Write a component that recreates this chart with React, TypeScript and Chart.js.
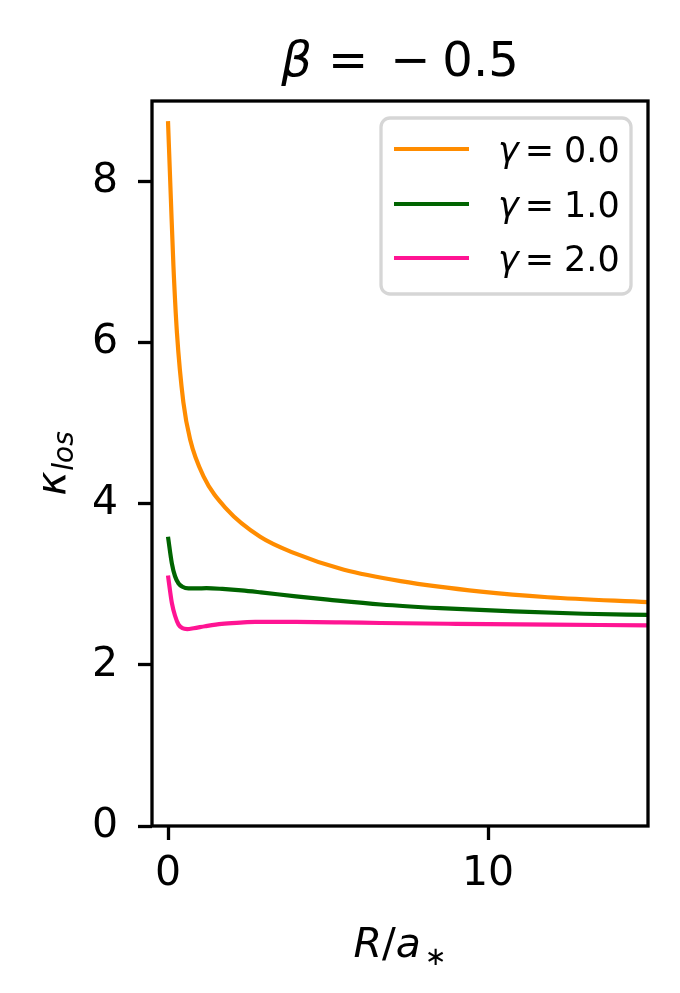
import { useEffect, useRef } from "react";
import { Chart, registerables } from "chart.js";

Chart.register(...registerables);

const FAMILY = '"DejaVu Sans", sans-serif';

// séries (R/a* no eixo x, kappa_los no eixo y)
const gammaLabels = ["0.0", "1.0", "2.0"];
const gammaColors = ["#ff8c00", "#006400", "#ff1493"];

const rGamma0 = [0, 0.09, 0.17, 0.28, 0.48, 0.69, 1.11, 1.84, 2.88, 3.93, 5.5, 7.27, 9.78, 11.87, 15];
const kGamma0 = [8.75, 7.78, 6.95, 6.12, 5.26, 4.8, 4.34, 3.93, 3.59, 3.39, 3.18, 3.04, 2.91, 2.84, 2.78];

const rGamma1 = [0, 0.12, 0.22, 0.33, 0.45, 0.64, 0.9, 1.2, 1.7, 2.3, 2.9, 4.0, 5.0, 6.65, 8.5, 10.8, 13, 15];
const kGamma1 = [3.59, 3.26, 3.1, 3.01, 2.97, 2.95, 2.95, 2.952, 2.943, 2.925, 2.9, 2.85, 2.81, 2.75, 2.705, 2.665, 2.635, 2.62];

const rGamma2 = [0, 0.06, 0.12, 0.22, 0.33, 0.45, 0.6, 0.8, 1.16, 1.68, 2.26, 2.73, 4, 5.4, 6.65, 9, 12, 15];
const kGamma2 = [3.11, 2.93, 2.77, 2.61, 2.5, 2.455, 2.445, 2.455, 2.48, 2.51, 2.525, 2.533, 2.533, 2.528, 2.52, 2.51, 2.5, 2.49];

const xTicks = [0, 10];
const yTicks = [0, 2, 4, 6, 8];

type Part = { text: string; font: string; dy?: number; gap?: number };

function drawParts(ctx: CanvasRenderingContext2D, parts: Part[], x: number, y: number, center: boolean) {
  const widths = parts.map((p) => {
    ctx.font = p.font;
    return ctx.measureText(p.text).width + (p.gap || 0);
  });
  const total = widths.reduce((a, b) => a + b, 0);
  let cx = center ? x - total / 2 : x;
  ctx.textAlign = "left";
  ctx.textBaseline = "alphabetic";
  parts.forEach((p, i) => {
    ctx.font = p.font;
    ctx.fillText(p.text, cx, y + (p.dy || 0));
    cx += widths[i];
  });
}

const decorPlugin = {
  id: "decor",
  afterDraw(chart: Chart) {
    const ctx = chart.ctx;
    const a = chart.chartArea;
    ctx.save();
    ctx.fillStyle = "#000";

    // moldura
    ctx.strokeStyle = "#000";
    ctx.lineWidth = 3.3;
    ctx.strokeRect(a.left, a.top, a.right - a.left, a.bottom - a.top);

    // título
    const title = `48px ${FAMILY}`;
    drawParts(ctx, [
      { text: "β", font: `italic 48px ${FAMILY}`, gap: 16 },
      { text: "=", font: title, gap: 22 },
      { text: "−", font: title, gap: 12 },
      { text: "0.5", font: title },
    ], (a.left + a.right) / 2, 76, true);

    // rótulo do eixo x
    const big = `41px ${FAMILY}`;
    const bigIt = `italic 41px ${FAMILY}`;
    drawParts(ctx, [
      { text: "R", font: bigIt },
      { text: "/", font: big },
      { text: "a", font: bigIt, gap: 4 },
      { text: "∗", font: `26px ${FAMILY}`, dy: 8 },
    ], (a.left + a.right) / 2, 957, true);

    // rótulo do eixo y
    ctx.save();
    ctx.translate(65, (a.top + a.bottom) / 2);
    ctx.rotate(-Math.PI / 2);
    drawParts(ctx, [
      { text: "κ", font: bigIt, gap: 1 },
      { text: "los", font: `italic 28px ${FAMILY}`, dy: 8 },
    ], 0, 0, true);
    ctx.restore();

    // legenda
    const bx = 381, by = 118, bw = 250, bh = 176;
    ctx.beginPath();
    ctx.roundRect(bx, by, bw, bh, 9);
    ctx.fillStyle = "rgba(255,255,255,0.8)";
    ctx.fill();
    ctx.strokeStyle = "#d6d6d6";
    ctx.lineWidth = 3.3;
    ctx.stroke();
    const rows = [149, 204, 258];
    gammaLabels.forEach((lab, i) => {
      ctx.strokeStyle = gammaColors[i];
      ctx.lineWidth = 4;
      ctx.beginPath();
      ctx.moveTo(394, rows[i]);
      ctx.lineTo(469, rows[i]);
      ctx.stroke();
      ctx.fillStyle = "#000";
      drawParts(ctx, [
        { text: "γ", font: `italic 35px ${FAMILY}`, gap: 6 },
        { text: "=", font: `35px ${FAMILY}`, gap: 10 },
        { text: lab, font: `35px ${FAMILY}` },
      ], 498, rows[i] + 13, false);
    });

    ctx.restore();
  },
};

function toPoints(xs: number[], ys: number[]) {
  return xs.map((x, i) => ({ x, y: ys[i] }));
}

export default function App() {
  const chartRef = useRef<HTMLCanvasElement>(null);
  const chartInstance = useRef<Chart | null>(null);

  useEffect(() => {
    document.body.style.margin = "0";
    if (chartInstance.current) {
      chartInstance.current.destroy();
    }
    const canvas = chartRef.current;
    if (!canvas) return;

    const series = [
      toPoints(rGamma0, kGamma0),
      toPoints(rGamma1, kGamma1),
      toPoints(rGamma2, kGamma2),
    ];

    chartInstance.current = new Chart(canvas, {
      type: "line",
      data: {
        datasets: series.map((pts, i) => ({
          label: `γ = ${gammaLabels[i]}`,
          data: pts,
          borderColor: gammaColors[i],
          backgroundColor: gammaColors[i],
          borderWidth: 4.2,
          pointRadius: 0,
          cubicInterpolationMode: "monotone" as const,
          fill: false,
        })),
      },
      options: {
        animation: false,
        responsive: false,
        layout: { padding: { top: 101, right: 32, left: 0, bottom: 0 } },
        plugins: {
          legend: { display: false },
          title: { display: false },
          tooltip: { enabled: false },
        },
        scales: {
          x: {
            type: "linear",
            min: -0.5,
            max: 15,
            afterBuildTicks: (s: any) => {
              s.ticks = xTicks.map((v) => ({ value: v }));
            },
            afterFit: (s: any) => {
              s.height = 167;
            },
            grid: { drawOnChartArea: false, tickLength: 14, tickWidth: 3.3, tickColor: "#000" },
            border: { display: false },
            ticks: { color: "#000", font: { family: FAMILY, size: 41 }, padding: 10, maxRotation: 0 },
          },
          y: {
            type: "linear",
            min: 0,
            max: 9,
            afterBuildTicks: (s: any) => {
              s.ticks = yTicks.map((v) => ({ value: v }));
            },
            afterFit: (s: any) => {
              s.width = 152;
            },
            grid: { drawOnChartArea: false, tickLength: 14, tickWidth: 3.3, tickColor: "#000" },
            border: { display: false },
            ticks: { color: "#000", font: { family: FAMILY, size: 41 }, padding: 20 },
          },
        },
      },
      plugins: [decorPlugin],
    });

    return () => {
      if (chartInstance.current) {
        chartInstance.current.destroy();
        chartInstance.current = null;
      }
    };
  }, []);

  return (
    <div style={{ width: 680, height: 993, background: "#fff" }}>
      <canvas ref={chartRef} width={680} height={993} style={{ display: "block" }} />
    </div>
  );
}
